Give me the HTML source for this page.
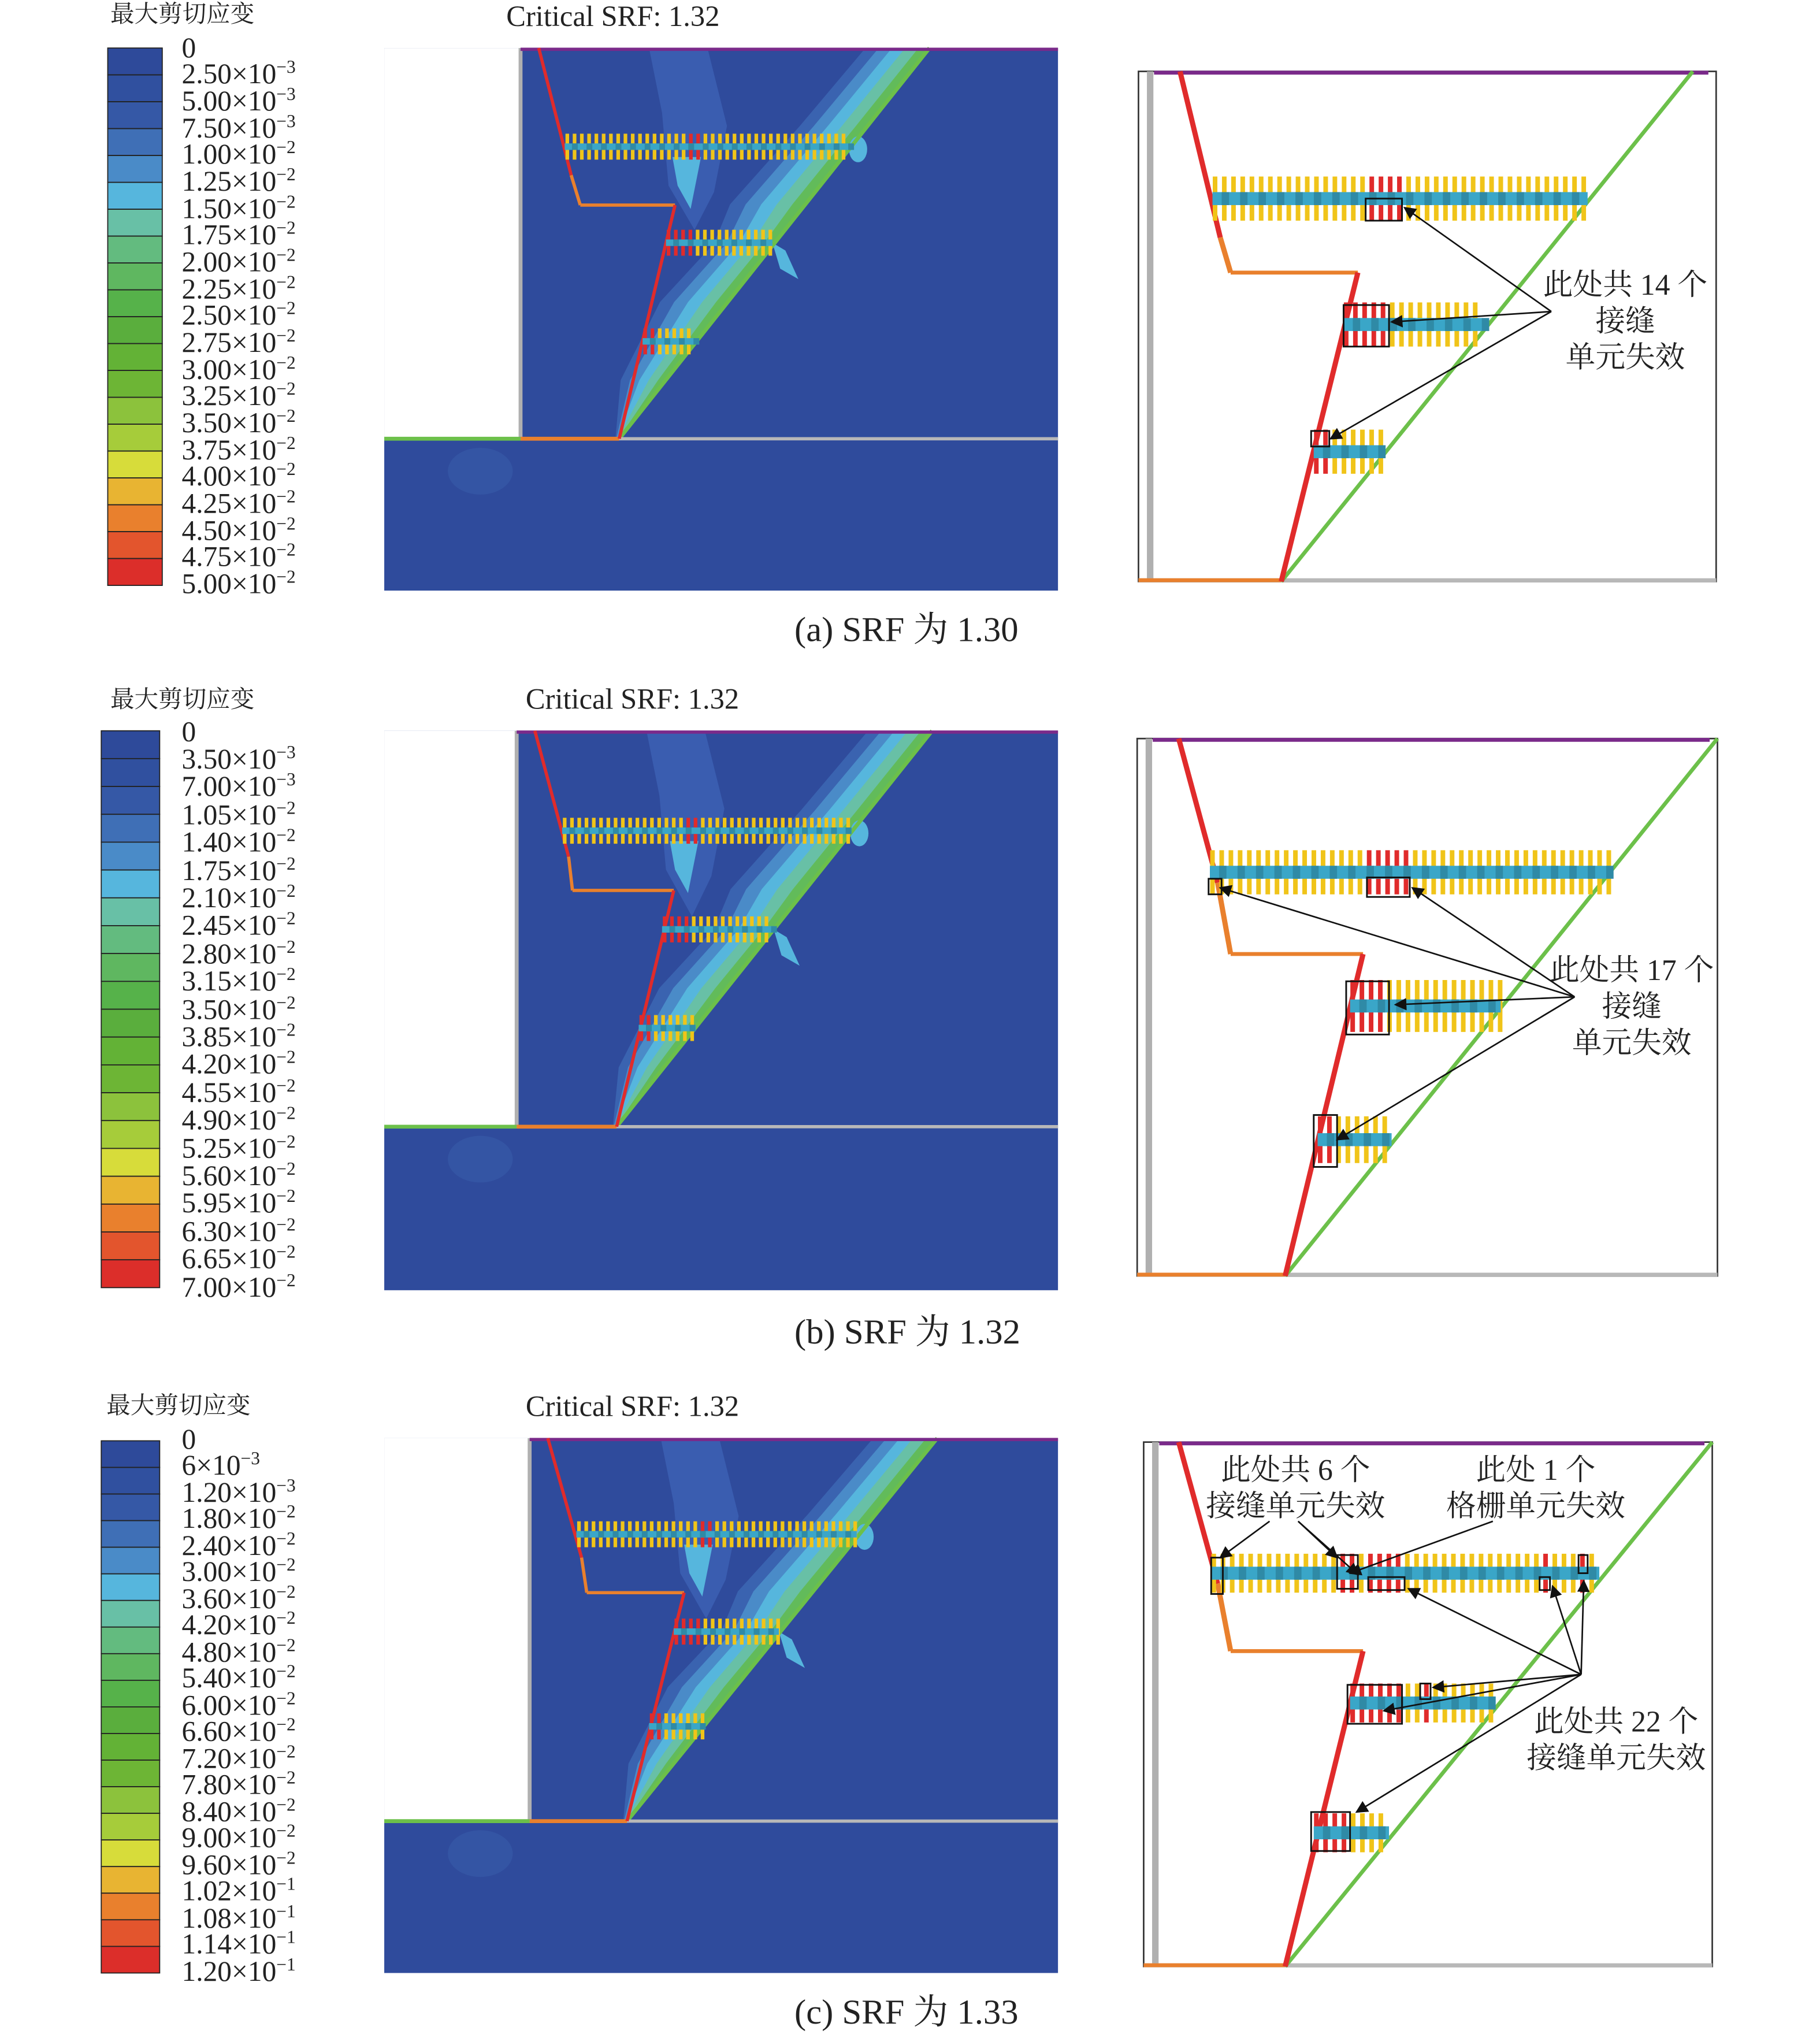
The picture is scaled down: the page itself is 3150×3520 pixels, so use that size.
<!DOCTYPE html>
<html><head><meta charset="utf-8"><style>
html,body{margin:0;padding:0;background:#fff}
svg{display:block}
.l{font-family:"Liberation Serif","Noto Serif CJK SC",serif;font-size:22px;fill:#222}
.t{font-family:"Liberation Serif","Noto Serif CJK SC",serif;font-size:18.5px;fill:#222}
.c{font-family:"Liberation Serif","Noto Serif CJK SC",serif;font-size:27px;fill:#222}
.h{font-family:"Liberation Serif","Noto Serif CJK SC",serif;font-size:22.5px;fill:#222}
.a{font-family:"Liberation Serif","Noto Serif CJK SC",serif;font-size:23px;fill:#222}
</style></head><body>
<svg id="s" width="3150" height="3520" viewBox="0 0 1402 1567" preserveAspectRatio="none" xmlns="http://www.w3.org/2000/svg">
<defs>
<marker id="ar" markerWidth="8" markerHeight="8" refX="7" refY="4" orient="auto"><path d="M0,0 L8,4 L0,8 z" fill="#111"/></marker>
</defs>
<g id="g"></g>
<!-- Panel a texts -->
<text class="t" x="85" y="17">最大剪切应变</text>
<text class="h" x="390" y="20">Critical SRF: 1.32</text>
<g class="l">
<text x="140" y="44">0</text>
<text x="140" y="64">2.50×10<tspan dy="-8" font-size="14">−3</tspan></text>
<text x="140" y="85">5.00×10<tspan dy="-8" font-size="14">−3</tspan></text>
<text x="140" y="106">7.50×10<tspan dy="-8" font-size="14">−3</tspan></text>
<text x="140" y="126">1.00×10<tspan dy="-8" font-size="14">−2</tspan></text>
<text x="140" y="147">1.25×10<tspan dy="-8" font-size="14">−2</tspan></text>
<text x="140" y="168">1.50×10<tspan dy="-8" font-size="14">−2</tspan></text>
<text x="140" y="188">1.75×10<tspan dy="-8" font-size="14">−2</tspan></text>
<text x="140" y="209">2.00×10<tspan dy="-8" font-size="14">−2</tspan></text>
<text x="140" y="230">2.25×10<tspan dy="-8" font-size="14">−2</tspan></text>
<text x="140" y="250">2.50×10<tspan dy="-8" font-size="14">−2</tspan></text>
<text x="140" y="271">2.75×10<tspan dy="-8" font-size="14">−2</tspan></text>
<text x="140" y="292">3.00×10<tspan dy="-8" font-size="14">−2</tspan></text>
<text x="140" y="312">3.25×10<tspan dy="-8" font-size="14">−2</tspan></text>
<text x="140" y="333">3.50×10<tspan dy="-8" font-size="14">−2</tspan></text>
<text x="140" y="354">3.75×10<tspan dy="-8" font-size="14">−2</tspan></text>
<text x="140" y="374">4.00×10<tspan dy="-8" font-size="14">−2</tspan></text>
<text x="140" y="395">4.25×10<tspan dy="-8" font-size="14">−2</tspan></text>
<text x="140" y="416">4.50×10<tspan dy="-8" font-size="14">−2</tspan></text>
<text x="140" y="436">4.75×10<tspan dy="-8" font-size="14">−2</tspan></text>
<text x="140" y="457">5.00×10<tspan dy="-8" font-size="14">−2</tspan></text>
</g>
<text class="c" x="612" y="494">(a) SRF 为 1.30</text>
<text class="a" x="1252" y="227" text-anchor="middle">此处共 14 个</text>
<text class="a" x="1252" y="255" text-anchor="middle">接缝</text>
<text class="a" x="1252" y="283" text-anchor="middle">单元失效</text>
<!-- Panel b -->
<text class="t" x="85" y="545">最大剪切应变</text>
<text class="h" x="405" y="546">Critical SRF: 1.32</text>
<g class="l">
<text x="140" y="571">0</text>
<text x="140" y="592">3.50×10<tspan dy="-8" font-size="14">−3</tspan></text>
<text x="140" y="613">7.00×10<tspan dy="-8" font-size="14">−3</tspan></text>
<text x="140" y="635">1.05×10<tspan dy="-8" font-size="14">−2</tspan></text>
<text x="140" y="656">1.40×10<tspan dy="-8" font-size="14">−2</tspan></text>
<text x="140" y="678">1.75×10<tspan dy="-8" font-size="14">−2</tspan></text>
<text x="140" y="699">2.10×10<tspan dy="-8" font-size="14">−2</tspan></text>
<text x="140" y="720">2.45×10<tspan dy="-8" font-size="14">−2</tspan></text>
<text x="140" y="742">2.80×10<tspan dy="-8" font-size="14">−2</tspan></text>
<text x="140" y="763">3.15×10<tspan dy="-8" font-size="14">−2</tspan></text>
<text x="140" y="785">3.50×10<tspan dy="-8" font-size="14">−2</tspan></text>
<text x="140" y="806">3.85×10<tspan dy="-8" font-size="14">−2</tspan></text>
<text x="140" y="827">4.20×10<tspan dy="-8" font-size="14">−2</tspan></text>
<text x="140" y="849">4.55×10<tspan dy="-8" font-size="14">−2</tspan></text>
<text x="140" y="870">4.90×10<tspan dy="-8" font-size="14">−2</tspan></text>
<text x="140" y="892">5.25×10<tspan dy="-8" font-size="14">−2</tspan></text>
<text x="140" y="913">5.60×10<tspan dy="-8" font-size="14">−2</tspan></text>
<text x="140" y="934">5.95×10<tspan dy="-8" font-size="14">−2</tspan></text>
<text x="140" y="956">6.30×10<tspan dy="-8" font-size="14">−2</tspan></text>
<text x="140" y="977">6.65×10<tspan dy="-8" font-size="14">−2</tspan></text>
<text x="140" y="999">7.00×10<tspan dy="-8" font-size="14">−2</tspan></text>
</g>
<text class="c" x="612" y="1035">(b) SRF 为 1.32</text>
<text class="a" x="1257" y="755" text-anchor="middle">此处共 17 个</text>
<text class="a" x="1257" y="783" text-anchor="middle">接缝</text>
<text class="a" x="1257" y="811" text-anchor="middle">单元失效</text>
<!-- Panel c -->
<text class="t" x="82" y="1089">最大剪切应变</text>
<text class="h" x="405" y="1091">Critical SRF: 1.32</text>
<g class="l">
<text x="140" y="1116">0</text>
<text x="140" y="1136">6×10<tspan dy="-8" font-size="14">−3</tspan></text>
<text x="140" y="1157">1.20×10<tspan dy="-8" font-size="14">−3</tspan></text>
<text x="140" y="1177">1.80×10<tspan dy="-8" font-size="14">−2</tspan></text>
<text x="140" y="1198">2.40×10<tspan dy="-8" font-size="14">−2</tspan></text>
<text x="140" y="1218">3.00×10<tspan dy="-8" font-size="14">−2</tspan></text>
<text x="140" y="1239">3.60×10<tspan dy="-8" font-size="14">−2</tspan></text>
<text x="140" y="1259">4.20×10<tspan dy="-8" font-size="14">−2</tspan></text>
<text x="140" y="1280">4.80×10<tspan dy="-8" font-size="14">−2</tspan></text>
<text x="140" y="1300">5.40×10<tspan dy="-8" font-size="14">−2</tspan></text>
<text x="140" y="1321">6.00×10<tspan dy="-8" font-size="14">−2</tspan></text>
<text x="140" y="1341">6.60×10<tspan dy="-8" font-size="14">−2</tspan></text>
<text x="140" y="1362">7.20×10<tspan dy="-8" font-size="14">−2</tspan></text>
<text x="140" y="1382">7.80×10<tspan dy="-8" font-size="14">−2</tspan></text>
<text x="140" y="1403">8.40×10<tspan dy="-8" font-size="14">−2</tspan></text>
<text x="140" y="1423">9.00×10<tspan dy="-8" font-size="14">−2</tspan></text>
<text x="140" y="1444">9.60×10<tspan dy="-8" font-size="14">−2</tspan></text>
<text x="140" y="1464">1.02×10<tspan dy="-8" font-size="14">−1</tspan></text>
<text x="140" y="1485">1.08×10<tspan dy="-8" font-size="14">−1</tspan></text>
<text x="140" y="1505">1.14×10<tspan dy="-8" font-size="14">−1</tspan></text>
<text x="140" y="1526">1.20×10<tspan dy="-8" font-size="14">−1</tspan></text>
</g>
<text class="c" x="612" y="1559">(c) SRF 为 1.33</text>
<text class="a" x="998" y="1140" text-anchor="middle">此处共 6 个</text>
<text class="a" x="998" y="1168" text-anchor="middle">接缝单元失效</text>
<text class="a" x="1183" y="1140" text-anchor="middle">此处 1 个</text>
<text class="a" x="1183" y="1168" text-anchor="middle">格栅单元失效</text>
<text class="a" x="1245" y="1334" text-anchor="middle">此处共 22 个</text>
<text class="a" x="1245" y="1362" text-anchor="middle">接缝单元失效</text>
</svg>
<script>
var NS="http://www.w3.org/2000/svg",G=document.getElementById("g");
function el(t,a){var e=document.createElementNS(NS,t);for(var k in a)e.setAttribute(k,a[k]);G.appendChild(e);return e;}
var COL=["#2e4a9a","#30509f","#3558a6","#3f6fb6","#4a8bc8","#56b6dd","#68c0a6","#63bb7f","#5fb760","#56b24a","#5aae3d","#63b236","#6db535","#8cc23c","#a6cc3a","#d7dc3a","#e8b432","#e9802d","#e3552d","#dc2e2a"];
function legend(x,y0,w,y1){var h=(y1-y0)/20;for(var i=0;i<20;i++){el("rect",{x:x,y:y0+i*h,width:w,height:h,fill:COL[i],stroke:"#222","stroke-width":0.8});}}
legend(83,37,42,451);legend(78,563,45,992);legend(78,1110,45,1520);
function nails(x0,x1,y,th,sp,bh,redSet){
 for(var x=x0+2;x<x1;x+=sp){var c=(redSet&&redSet(x))?"#e02b2b":"#f0c419";
  el("line",{x1:x,y1:y-th,x2:x,y2:y+th,stroke:c,"stroke-width":sp*0.5});}
 el("rect",{x:x0,y:y-bh/2,width:x1-x0,height:bh,fill:"#3aa6c8"});
 for(var x=x0+sp;x<x1;x+=sp*2){el("rect",{x:x,y:y-bh/2,width:sp*0.8,height:bh,fill:"#2f8aa6"});}
}
function main(p){
 el("rect",{x:296,y:p.y0,width:519,height:p.y1-p.y0,fill:"#2f4b9c"});
 el("rect",{x:296,y:p.y0,width:p.crest-296,height:p.gy-p.y0,fill:"#fff"});
 var T=p.top,t=p.toe,y0=p.y0,gy=p.gy;
 function S(f,off){return [(t+(T-t)*f-off).toFixed(1),(gy+(y0-gy)*f).toFixed(1)];}
 // subtle vertical light zone
 var bx=p.n1[0]+85;
 el("polygon",{points:[bx-20,y0,bx+25,y0,bx+40,y0+60,bx+30,p.n1[2]+35,bx+15,p.n2[2]-10,bx-5,p.n1[2]+30,bx-10,y0+50].join(" "),fill:"#3a5db0"});
 el("polygon",{points:[bx-2,p.n1[2]+8,bx+20,p.n1[2]+8,bx+12,p.n1[2]+48,bx+2,p.n1[2]+30].join(" "),fill:"#56b6dd"});
 el("ellipse",{cx:370,cy:p.gy+25,rx:25,ry:18,fill:"#3455a4"});
 // shear band: w(f)
 var W=[[0,0.05],[0.15,0.6],[0.35,0.9],[0.5,0.8],[0.6,1],[0.8,0.9],[1,0.85]];
 function band(off,col){var pts=[];W.forEach(function(w){pts.push(S(w[0],0).join(","));});
  for(var i=W.length-1;i>=0;i--){pts.push(S(W[i][0],off*W[i][1]).join(","));}
  el("polygon",{points:pts.join(" "),fill:col});}
 band(58,"#3a63b0");band(46,"#4a8bc8");band(34,"#56b6dd");band(22,"#68c0a6");band(10,"#62bb5a");
 el("ellipse",{cx:p.n1[1]+6,cy:p.n1[2]+2,rx:7,ry:10,fill:"#56b6dd"});
 el("path",{d:"M"+(p.n2[1])+","+(p.n2[2])+" l10,6 l10,22 l-14,-8 z",fill:"#56b6dd"});
 el("line",{x1:t,y1:gy,x2:T,y2:y0,stroke:"#6cc04a","stroke-width":3});
 el("line",{x1:p.crest,y1:p.y0,x2:p.crest,y2:p.gy,stroke:"#b0b0b0","stroke-width":3});
 el("line",{x1:296,y1:p.gy,x2:815,y2:p.gy,stroke:"#b8b8b8","stroke-width":2.5});
 el("line",{x1:p.crest,y1:p.y0+1,x2:815,y2:p.y0+1,stroke:"#7a2a8a","stroke-width":2.5});
 el("line",{x1:p.crest,y1:p.gy,x2:p.toe,y2:p.gy,stroke:"#e9802d","stroke-width":3});
 el("line",{x1:296,y1:p.gy,x2:p.crest,y2:p.gy,stroke:"#6cc04a","stroke-width":3});
 var r=p.red;
 el("polyline",{points:[r[0],r[1],r[2],r[3]].join(" "),fill:"none",stroke:"#e02b2b","stroke-width":2.5});
 el("line",{x1:r[2],y1:r[3],x2:r[4],y2:r[5],stroke:"#e9802d","stroke-width":2.5});
 el("line",{x1:r[4],y1:r[5],x2:r[6],y2:r[5],stroke:"#e9802d","stroke-width":2.5});
 el("line",{x1:r[6],y1:r[5],x2:p.toe,y2:p.gy,stroke:"#e02b2b","stroke-width":2.5});
 nails(p.n1[0],p.n1[1],p.n1[2],10,5.6,5,function(x){return x>p.n1[0]+95&&x<p.n1[0]+108;});
 nails(p.n2[0],p.n2[1],p.n2[2],10,5.6,5,function(x){return x<p.n2[0]+20;});
 nails(p.n3[0],p.n3[1],p.n3[2],10,5.6,5,function(x){return x<p.n3[0]+8;});
}
main({y0:37,y1:455,crest:401,gy:338,toe:477,top:716,red:[415,37,440,135,447,158,520],n1:[435,655,113],n2:[513,595,187],n3:[495,535,263]});
main({y0:563,y1:994,crest:398,gy:868,toe:475,top:718,red:[412,563,438,660,441,686,519],n1:[433,656,640],n2:[510,596,716],n3:[492,536,792]});
main({y0:1108,y1:1520,crest:408,gy:1403,toe:483,top:722,red:[422,1108,448,1200,452,1227,527],n1:[444,660,1182],n2:[519,600,1257],n3:[500,543,1330]});
function zoomP(p){
 el("rect",{x:p.x0,y:p.y0,width:p.x1-p.x0,height:p.y1-p.y0,fill:"#fff",stroke:"#333","stroke-width":1.2});
 el("line",{x1:p.x0+9,y1:p.y0,x2:p.x0+9,y2:p.y1,stroke:"#b0b0b0","stroke-width":5});
 el("line",{x1:p.x0+12,y1:p.y0+1,x2:p.x1-6,y2:p.y0+1,stroke:"#7a2a8a","stroke-width":3});
 el("line",{x1:p.x0,y1:p.y1-1,x2:p.x1,y2:p.y1-1,stroke:"#b8b8b8","stroke-width":3});
 el("line",{x1:p.x0,y1:p.y1-1,x2:p.toe,y2:p.y1-1,stroke:"#e9802d","stroke-width":3});
 el("line",{x1:p.toe,y1:p.y1,x2:p.top,y2:p.y0,stroke:"#6cc04a","stroke-width":3});
 var r=p.red;
 el("polyline",{points:[r[0],p.y0,r[1],r[2]].join(" "),fill:"none",stroke:"#e02b2b","stroke-width":4});
 el("polyline",{points:[r[1],r[2],r[3],r[4]].join(" "),fill:"none",stroke:"#e9802d","stroke-width":4});
 el("line",{x1:r[3],y1:r[4],x2:r[5],y2:r[4],stroke:"#e9802d","stroke-width":3});
 el("line",{x1:r[5],y1:r[4],x2:p.toe,y2:p.y1,stroke:"#e02b2b","stroke-width":4});
 p.rows.forEach(function(n){nails(n[0],n[1],n[2],n[3],7.1,10,function(x){return n[4]&&n[4].some(function(q){return x>=q[0]&&x<=q[1];});});});
 p.boxes.forEach(function(b){el("rect",{x:b[0],y:b[1],width:b[2],height:b[3],fill:"none",stroke:"#111","stroke-width":1.3});});
 p.arrows.forEach(function(a){el("line",{x1:a[0],y1:a[1],x2:a[2],y2:a[3],stroke:"#111","stroke-width":1.2,"marker-end":"url(#ar)"});});
}
zoomP({x0:877,y0:55,x1:1322,y1:448,toe:987,top:1304,red:[909,940,183,948,210,1046],
 rows:[[934,1223,153,17,[[1054,1078]]],[1035,1142,250,17,[[1037,1068]]],[1012,1067,348,17,[[1012,1024]]]],
 boxes:[[1052,153,28,17],[1035,235,35,32],[1010,332,14,12]],
 arrows:[[1195,240,1082,160],[1195,240,1072,248],[1195,240,1025,338]]});
zoomP({x0:876,y0:569,x1:1323,y1:983,toe:990,top:1323,red:[908,938,680,948,735,1050],
 rows:[[932,1240,672,17,[[1054,1086]]],[1040,1156,775,20,[[1040,1070]]],[1015,1072,878,18,[[1015,1028]]]],
 boxes:[[931,677,10,12],[1053,676,33,15],[1037,756,33,41],[1012,859,18,40]],
 arrows:[[1213,768,940,684],[1213,768,1088,684],[1213,768,1075,774],[1213,768,1030,878]]});
zoomP({x0:881,y0:1111,x1:1319,y1:1515,toe:990,top:1319,red:[908,938,1220,948,1272,1050],
 rows:[[933,1232,1212,15,[[1030,1046],[1054,1082],[1186,1192],[1217,1222]]],[1040,1152,1312,15,[[1040,1080],[1095,1100]]],[1012,1070,1412,15,[[1012,1040]]]],
 boxes:[[933,1200,9,28],[1030,1198,16,26],[1054,1215,28,10],[1186,1215,8,10],[1216,1198,7,14],[1038,1298,42,30],[1094,1297,8,12],[1010,1396,30,30]],
 arrows:[[978,1172,940,1200],[1000,1172,1030,1200],[1000,1172,1046,1213],[1150,1172,1040,1212],[1218,1290,1085,1224],[1218,1290,1196,1222],[1218,1290,1220,1218],[1218,1290,1066,1318],[1218,1290,1104,1300],[1218,1290,1045,1396]]});
</script>
</body></html>
